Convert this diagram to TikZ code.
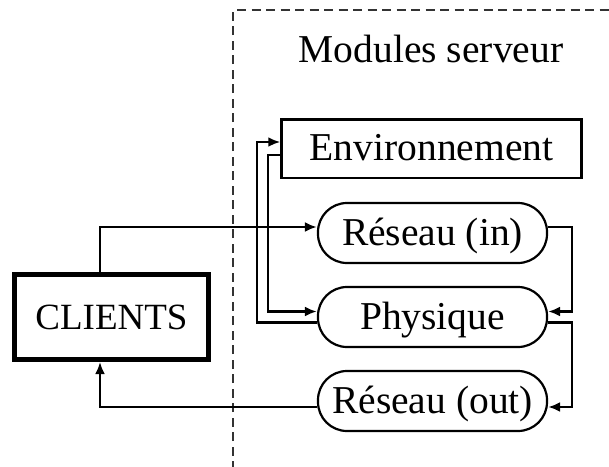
\documentclass[tikz,border=0pt]{standalone}
\usepackage{fontspec}
\setmainfont{Liberation Serif}
\usetikzlibrary{arrows.meta}
\begin{document}
\begin{tikzpicture}[x=1pt,y=-1pt,
  every node/.style={font=\fontsize{39.5}{44}\selectfont, inner sep=0pt, text height=24pt, text depth=0pt},
  clientbox/.style={draw, line width=5pt, minimum width=194pt, minimum height=85pt, font=\fontsize{37}{42}\selectfont},
  envbox/.style={draw, line width=2.5pt, minimum width=300pt, minimum height=58.5pt},
  modbox/.style={draw, line width=2.2pt, rounded corners=29pt, minimum width=229pt, minimum height=60pt},
  conn/.style={line width=2.4pt, -{Latex[length=12pt,width=10pt]}},
  border/.style={line width=1.2pt, dash pattern=on 9pt off 5.5pt, black!80}
]
\useasboundingbox (0,0) rectangle (609,466);
\draw[border] (233,470) -- (233,10) -- (615,10);
\node[anchor=base, text height=, text depth=] (title) at (431,62) {Modules serveur};
\node[clientbox] (cl) at (111.5,317) {CLIENTS};
\node[envbox] (env) at (431.5,148.5) {Environnement};
\node[modbox] (rin) at (432.5,233) {Réseau (in)};
\node[modbox] (phys) at (432.5,317) {Physique};
\node[modbox] (rout) at (432.5,401) {Réseau (out)};
% clients -> reseau in
\draw[conn] ([xshift=-11.5pt]cl.north) |- ([yshift=6pt]rin.west);
% reseau in -> physique
\draw[conn] ([yshift=6pt]rin.east) -- ++(24,0) |- ([yshift=5.5pt]phys.east);
% physique -> reseau out
\draw[conn] ([yshift=-5.5pt]phys.east) -- ++(24,0) |- ([yshift=-6pt]rout.east);
% reseau out -> clients
\draw[conn] ([yshift=-6pt]rout.west) -| ([xshift=-11.5pt]cl.south);
% physique -> environnement
\draw[conn] ([yshift=-5.5pt]phys.west) -- ++(-60,0) |- ([yshift=6.5pt]env.west);
% environnement -> physique
\draw[conn] ([yshift=-6.5pt]env.west) -- ++(-12,0) |- ([yshift=5.5pt]phys.west);
\end{tikzpicture}
\end{document}
